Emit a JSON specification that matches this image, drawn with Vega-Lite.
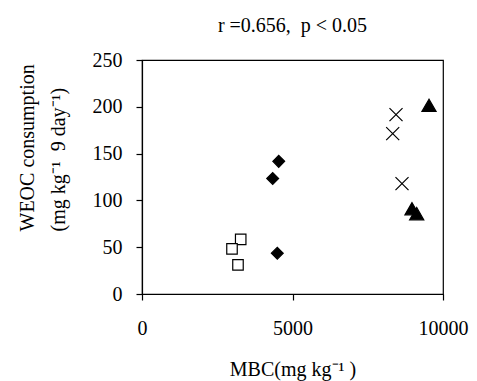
{
  "$schema": "https://vega.github.io/schema/vega-lite/v6.json",
  "autosize": "none",
  "width": 301,
  "height": 234,
  "padding": {"left": 142, "top": 60, "right": 34, "bottom": 87},
  "background": "white",
  "config": {
    "font": "Liberation Serif",
    "view": {"stroke": "black", "strokeWidth": 1.2},
    "axis": {"grid": false, "domainColor": "black", "tickColor": "black", "labelColor": "black", "titleColor": "black", "labelFont": "Liberation Serif", "titleFont": "Liberation Serif", "labelFontSize": 20, "titleFontSize": 20, "titleFontWeight": "normal", "tickSize": 6, "domainWidth": 1.2, "tickWidth": 1.2}
  },
  "title": {"text": "r =0.656,\u00a0\u00a0p < 0.05", "font": "Liberation Serif", "fontSize": 20, "fontWeight": "normal", "color": "black", "anchor": "middle", "offset": 14},
  "data": {"values": [
    {"mbc": 3279, "weoc": 58.3, "g": "A"},
    {"mbc": 2990, "weoc": 48.3, "g": "A"},
    {"mbc": 3189, "weoc": 31.2, "g": "A"},
    {"mbc": 4542, "weoc": 141.7, "g": "B"},
    {"mbc": 4342, "weoc": 123.5, "g": "B"},
    {"mbc": 4495, "weoc": 43.6, "g": "B"},
    {"mbc": 8439, "weoc": 191.7, "g": "C"},
    {"mbc": 8329, "weoc": 171.3, "g": "C"},
    {"mbc": 8638, "weoc": 117.9, "g": "C"},
    {"mbc": 9535, "weoc": 201.6, "g": "D"},
    {"mbc": 8970, "weoc": 91.1, "g": "D"},
    {"mbc": 9126, "weoc": 85.8, "g": "D"}
  ]},
  "mark": {"type": "point", "filled": true, "stroke": "black", "strokeWidth": 1.2, "opacity": 1},
  "encoding": {
    "x": {"field": "mbc", "type": "quantitative", "scale": {"domain": [0, 10000], "nice": false, "zero": true},
      "axis": {"values": [0, 5000, 10000], "format": "d", "labelPadding": 18, "labelFlush": false, "title": "MBC(mg kg\u207b\u00b9 )", "titlePadding": 21}},
    "y": {"field": "weoc", "type": "quantitative", "scale": {"domain": [0, 250], "nice": false},
      "axis": {"values": [0, 50, 100, 150, 200, 250], "format": "d", "labelPadding": 14, "title": ["WEOC consumption", "(mg kg\u207b\u00b9\u00a0\u00a09 day\u207b\u00b9)"], "titleAlign": "left", "titleAngle": -90, "titleBaseline": "top", "titleLineHeight": 31, "titleX": -125, "titleY": 171}},
    "shape": {"field": "g", "type": "nominal", "legend": null, "scale": {"domain": ["A", "B", "C", "D"], "range": ["square", "diamond", "M-1,-1L1,1M-1,1L1,-1", "triangle-up"]}},
    "fill": {"field": "g", "type": "nominal", "legend": null, "scale": {"domain": ["A", "B", "C", "D"], "range": ["white", "black", "black", "black"]}},
    "size": {"field": "g", "type": "nominal", "legend": null, "scale": {"domain": ["A", "B", "C", "D"], "range": [110, 200, 60, 115]}}
  }
}
